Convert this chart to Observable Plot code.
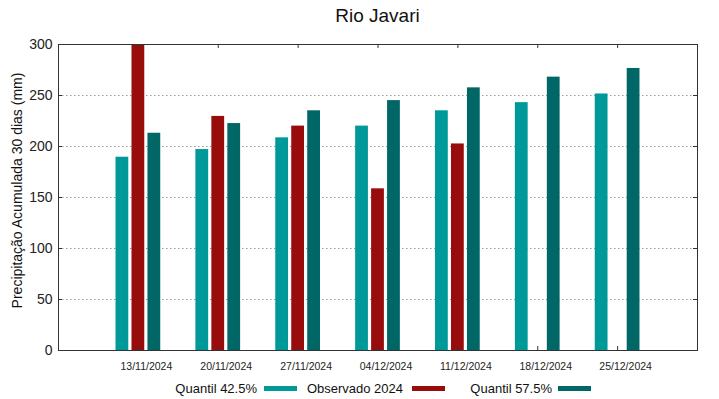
<!DOCTYPE html>
<html>
<head>
<meta charset="utf-8">
<script src="https://cdn.jsdelivr.net/npm/d3@7"></script>
<script src="https://cdn.jsdelivr.net/npm/@observablehq/plot@0.6"></script>
<style>
  body { margin: 0; background: #fff; font-family: "Liberation Sans", Arial, sans-serif; }
  #wrap { position: relative; width: 719px; height: 399px; overflow: hidden; }
  #title { position: absolute; left: 58px; width: 639px; top: 6px; text-align: center; font-size: 19px; line-height: 19px; color: #111; }
  #chart { position: absolute; left: 0; top: 32px; }
  .lg-text { position: absolute; top: 382px; font-size: 13px; line-height: 13px; color: #111; text-align: right; white-space: nowrap; }
  .lg-sw { position: absolute; top: 386px; width: 33px; height: 5px; }
</style>
</head>
<body>
<div id="wrap">
  <div id="title"></div>
  <div id="chart"></div>
  <div id="legend"></div>
</div>
<script>
const title = "Rio Javari";
const yLabel = "Precipitação Acumulada 30 dias (mm)";
const dates = ["13/11/2024", "20/11/2024", "27/11/2024", "04/12/2024", "11/12/2024", "18/12/2024", "25/12/2024"];
const seriesNames = ["Quantil 42.5%", "Observado 2024", "Quantil 57.5%"];
const seriesColors = ["#009999", "#990c0c", "#006666"];
const quantil425 = [189.5, 197, 208.5, 220, 235, 243, 251.5];
const observado2024 = [300, 229.5, 220, 158.5, 202.5, null, null];
const quantil575 = [213, 222.5, 235, 245, 257.5, 268, 276.5];
const yTicks = [0, 50, 100, 150, 200, 250, 300];
const gridValues = [50, 100, 150, 200, 250];

const seriesValues = [quantil425, observado2024, quantil575];
const offsets = [-0.2, 0, 0.2];
const rows = seriesValues.flatMap((vals, k) =>
  vals.map((v, j) => ({ i: j + 1, v, s: seriesNames[k], off: offsets[k] })).filter(d => d.v != null)
);
const xPositions = dates.map((d, j) => j + 1);

document.getElementById("title").textContent = title;

const chart = Plot.plot({
  width: 719,
  height: 342,
  marginLeft: 58,
  marginRight: 22,
  marginTop: 12,
  marginBottom: 24,
  x: { domain: [0, 8] },
  y: { domain: [0, 300] },
  color: { domain: seriesNames, range: seriesColors },
  style: { fontFamily: "Liberation Sans, Arial, sans-serif", color: "#222", background: "transparent" },
  marks: [
    Plot.ruleY(gridValues, { stroke: "#999", strokeDasharray: "1.5,2.5", strokeWidth: 1 }),
    Plot.rectY(rows, { x1: d => d.i + d.off - 0.08, x2: d => d.i + d.off + 0.08, y1: 0, y2: "v", fill: "s" }),
    Plot.axisX({ ticks: xPositions, tickFormat: i => dates[i - 1], tickSize: 0, tickPadding: 12, fontSize: 10.5, dx: 8, label: null }),
    Plot.axisY({ ticks: yTicks, tickSize: 0, tickPadding: 6, fontSize: 14, label: null }),
    Plot.ruleX(xPositions, { x: d => d, y1: 0, y2: 3.9, stroke: "#333" }),
    Plot.ruleX(xPositions, { x: d => d, y1: 296.1, y2: 300, stroke: "#333" }),
    Plot.ruleY(gridValues, { y: d => d, x1: 0, x2: 0.05, stroke: "#333" }),
    Plot.ruleY(gridValues, { y: d => d, x1: 7.95, x2: 8, stroke: "#333" }),
    Plot.frame({ stroke: "#333" }),
    Plot.text([yLabel], { frameAnchor: "left", textAnchor: "middle", dx: -41, dy: -7, rotate: -90, fontSize: 14, fill: "#111" })
  ]
});
document.getElementById("chart").appendChild(chart);

// Legend
const legend = document.getElementById("legend");
const textRight = [257, 403, 552];
const swLeft = [264, 412, 558];
seriesNames.forEach((name, k) => {
  const t = document.createElement("div");
  t.className = "lg-text";
  t.style.right = (719 - textRight[k]) + "px";
  t.textContent = name;
  legend.appendChild(t);
  const s = document.createElement("div");
  s.className = "lg-sw";
  s.style.left = swLeft[k] + "px";
  s.style.background = seriesColors[k];
  legend.appendChild(s);
});
</script>
</body>
</html>
